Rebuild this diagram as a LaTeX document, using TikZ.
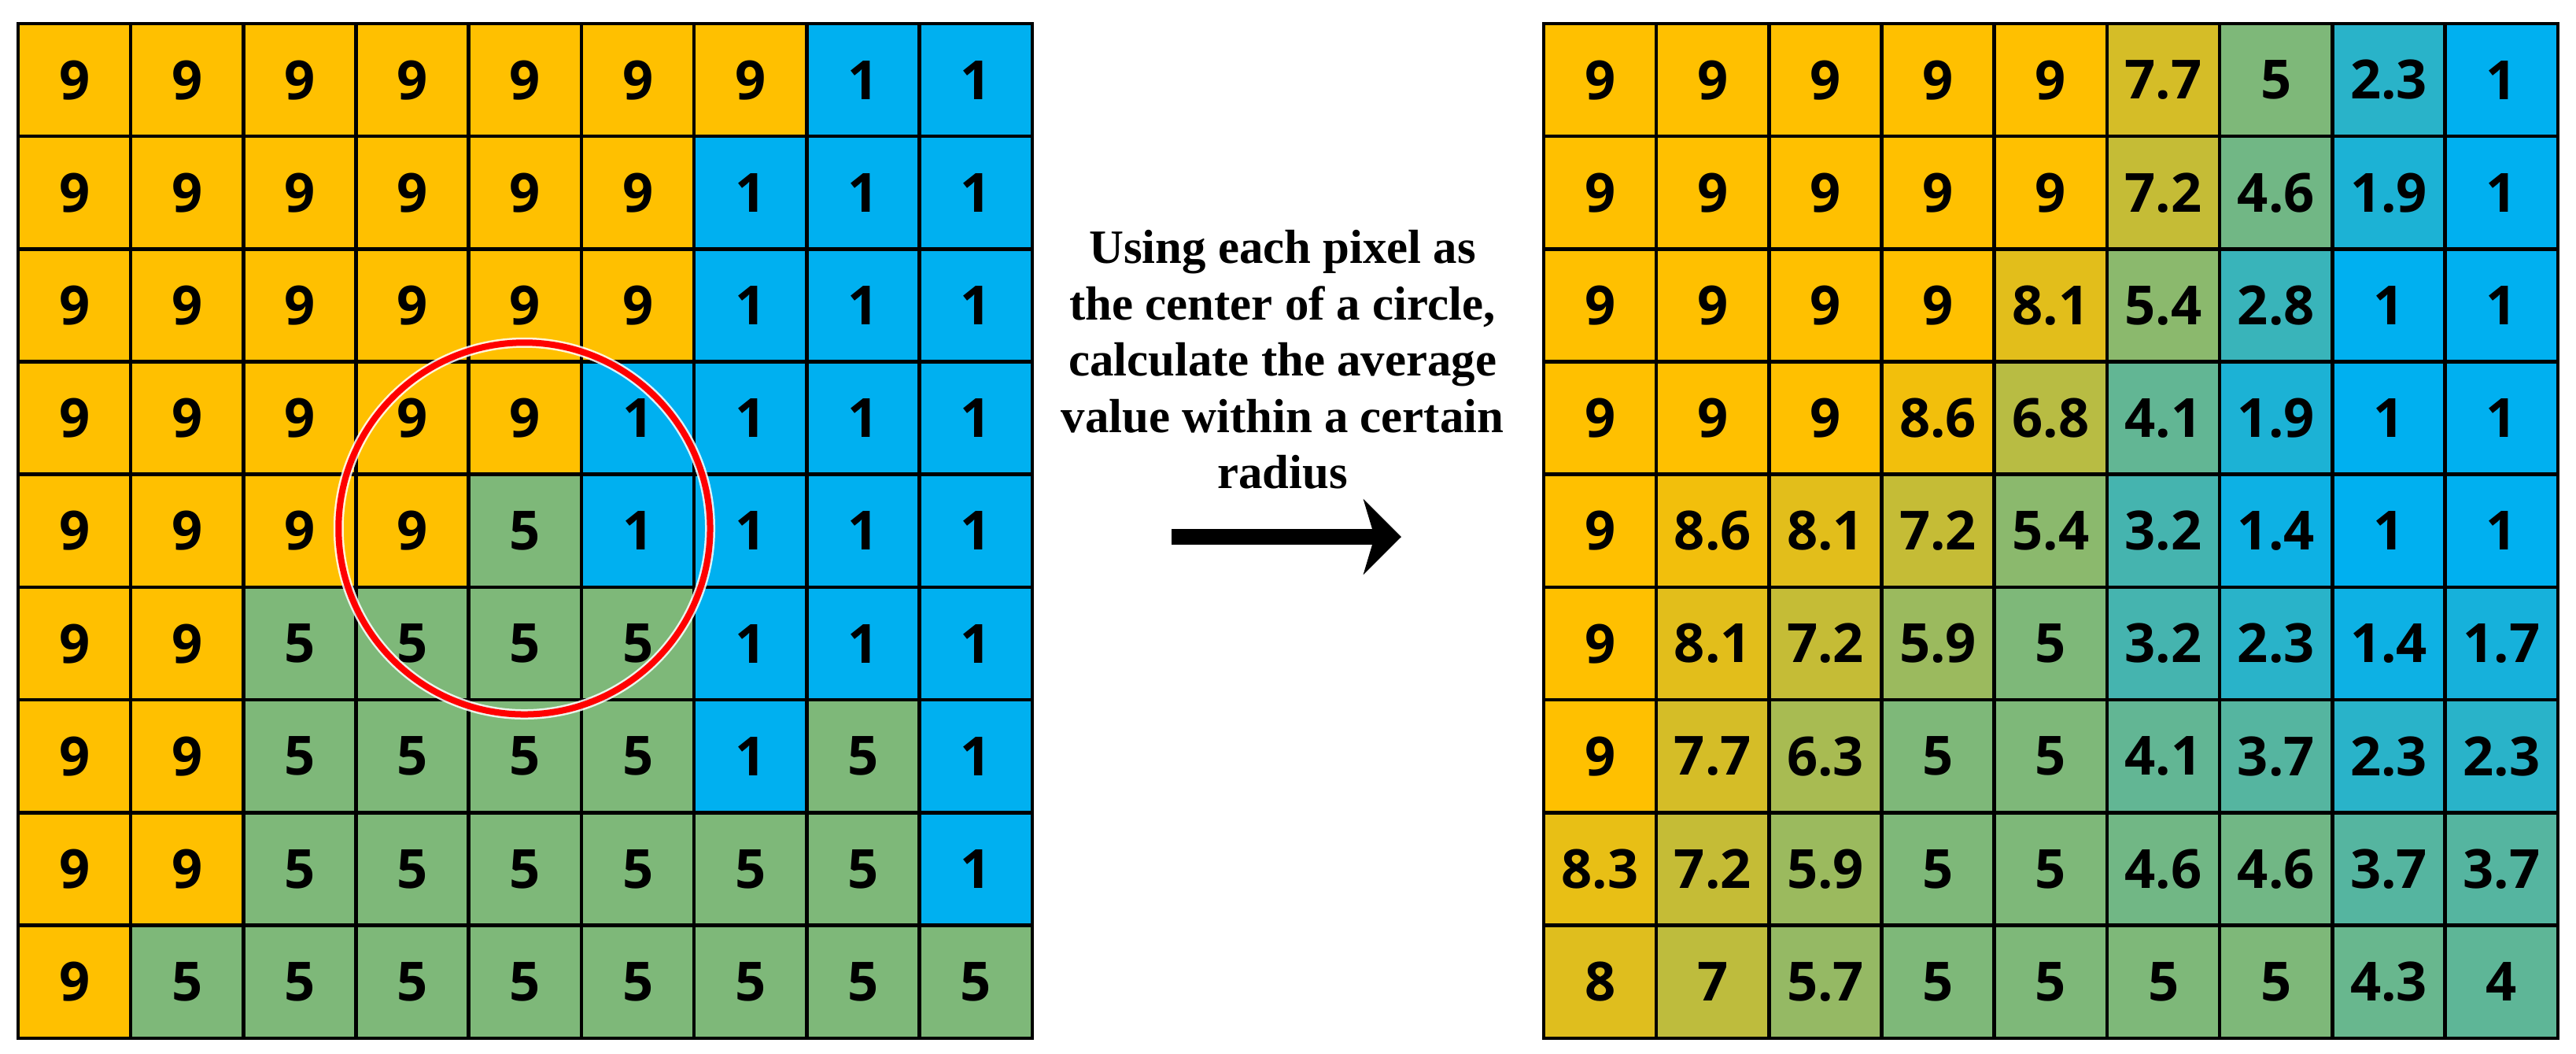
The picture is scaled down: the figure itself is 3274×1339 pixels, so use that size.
\documentclass[tikz,border=0pt]{standalone}
\usepackage{fontspec}
\setmainfont{Liberation Serif}
\newfontfamily\numfont{Open Sans}
\usetikzlibrary{arrows.meta}
\definecolor{yel}{RGB}{255,192,0}
\definecolor{grn}{RGB}{126,184,121}
\definecolor{blu}{RGB}{0,176,240}
\definecolor{ringred}{RGB}{255,0,0}
\begin{document}
\begin{tikzpicture}[x=0.01cm,y=-0.01cm,
  cellbox/.style={draw=black, line width=1.3pt, minimum size=1.432cm, inner sep=0pt,
    font=\numfont\fontsize{19.5}{20}\selectfont\bfseries},
  caption/.style={align=center, inner sep=0pt, font=\bfseries\fontsize{17.3}{20.3}\selectfont},
  bigarrow/.style={line width=0.2cm, -{Stealth[length=0.48cm, width=0.95cm, inset=0.14cm]}},
]
\useasboundingbox[fill=white] (0,0) rectangle (3274,1339);

% left grid (original values)
\foreach \rowvals [count=\r] in {
  {9,9,9,9,9,9,9,1,1},
  {9,9,9,9,9,9,1,1,1},
  {9,9,9,9,9,9,1,1,1},
  {9,9,9,9,9,1,1,1,1},
  {9,9,9,9,5,1,1,1,1},
  {9,9,5,5,5,5,1,1,1},
  {9,9,5,5,5,5,1,5,1},
  {9,9,5,5,5,5,5,5,1},
  {9,5,5,5,5,5,5,5,5}}{
  \foreach \v [count=\c] in \rowvals {
    \pgfmathtruncatemacro\hi{\v>=5?1:0}
    \ifnum\hi=1
      \pgfmathsetmacro\p{(\v-5)*25}\edef\fc{yel!\p!grn}
    \else
      \pgfmathsetmacro\p{(\v-1)*25}\edef\fc{grn!\p!blu}
    \fi
    \node[cellbox, fill=\fc] (L-\r-\c) at ({23+(\c-0.5)*143.2},{30+(\r-0.5)*143.2}) {\v};
  }
}

% right grid (averaged values)
\foreach \rowvals [count=\r] in {
  {9,9,9,9,9,7.7,5,2.3,1},
  {9,9,9,9,9,7.2,4.6,1.9,1},
  {9,9,9,9,8.1,5.4,2.8,1,1},
  {9,9,9,8.6,6.8,4.1,1.9,1,1},
  {9,8.6,8.1,7.2,5.4,3.2,1.4,1,1},
  {9,8.1,7.2,5.9,5,3.2,2.3,1.4,1.7},
  {9,7.7,6.3,5,5,4.1,3.7,2.3,2.3},
  {8.3,7.2,5.9,5,5,4.6,4.6,3.7,3.7},
  {8,7,5.7,5,5,5,5,4.3,4}}{
  \foreach \v [count=\c] in \rowvals {
    \pgfmathtruncatemacro\hi{\v>=5?1:0}
    \ifnum\hi=1
      \pgfmathsetmacro\p{(\v-5)*25}\edef\fc{yel!\p!grn}
    \else
      \pgfmathsetmacro\p{(\v-1)*25}\edef\fc{grn!\p!blu}
    \fi
    \node[cellbox, fill=\fc] (R-\r-\c) at ({1962+(\c-0.5)*143.2},{30+(\r-0.5)*143.2}) {\v};
  }
}

% red circle around the center pixel
\draw[white, opacity=0.85, line width=0.13cm] (L-5-5.center) ++(-1,-3) circle[radius=2.36cm];
\draw[ringred, line width=0.08cm] (L-5-5.center) ++(-1,-3) circle[radius=2.36cm];

% caption and arrow
\node[caption] (cap) at (1630,457) {Using each pixel as\\the center of a circle,\\calculate the average\\value within a certain\\radius};
\coordinate (a0) at (1489,682);
\coordinate (a1) at (1781,682);
\draw[bigarrow] (a0) -- (a1);
\end{tikzpicture}
\end{document}
